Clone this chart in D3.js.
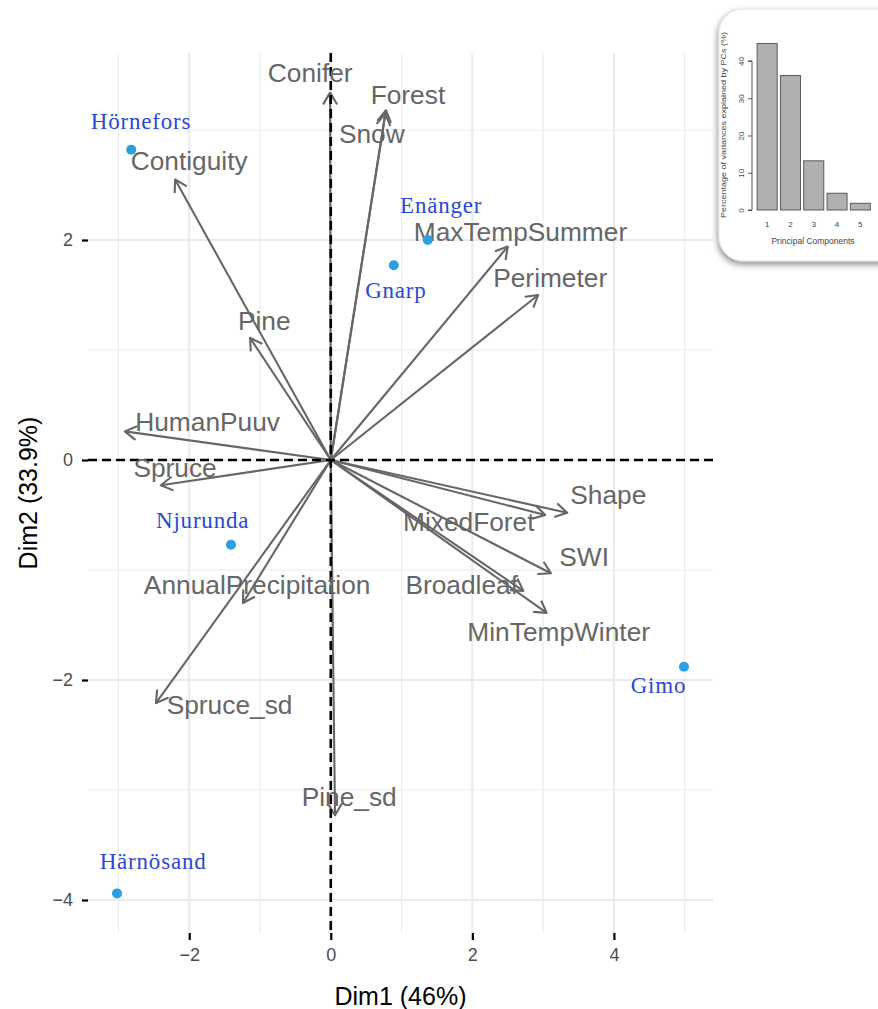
<!DOCTYPE html>
<html>
<head>
<meta charset="utf-8">
<script src="https://cdn.jsdelivr.net/npm/d3@7"></script>
<style>
html,body{margin:0;padding:0;background:#fff;}
svg{display:block;}
</style>
</head>
<body>
<svg id="chart" width="878" height="1009"></svg>
<script>
// ---------- DATA ----------
const varNames = ["Conifer","Forest","Snow","Contiguity","MaxTempSummer","Perimeter","Pine","HumanPuuv","Spruce","AnnualPrecipitation","Spruce_sd","Pine_sd","Shape","MixedForet","SWI","Broadleaf","MinTempWinter"];
const varDim1 = [-0.01, 0.78, 0.77, -2.20, 2.50, 2.93, -1.14, -2.91, -2.40, -1.24, -2.47, 0.06, 3.34, 3.03, 3.11, 2.72, 3.05];
const varDim2 = [3.34, 3.18, 3.15, 2.55, 1.94, 1.50, 1.11, 0.26, -0.23, -1.30, -2.21, -3.23, -0.48, -0.50, -1.03, -1.19, -1.39];
const varLabelDim1 = [-0.29, 1.09, 0.58, -2.00, 2.68, 3.10, -0.94, -1.74, -2.20, -1.04, -1.43, 0.26, 3.92, 1.95, 3.58, 1.85, 3.22];
const varLabelDim2 = [3.52, 3.32, 2.97, 2.72, 2.08, 1.66, 1.27, 0.35, -0.07, -1.13, -2.22, -3.06, -0.31, -0.56, -0.88, -1.13, -1.56];

const indNames = ["Hörnefors","Enänger","Gnarp","Njurunda","Gimo","Härnösand"];
const indDim1 = [-2.82, 1.37, 0.89, -1.41, 4.99, -3.02];
const indDim2 = [2.82, 2.00, 1.77, -0.77, -1.88, -3.94];
const indLabelDim1 = [-2.68, 1.56, 0.92, -1.81, 4.63, -2.51];
const indLabelDim2 = [3.08, 2.32, 1.54, -0.55, -2.05, -3.65];

const xMajorTicks = [-2, 0, 2, 4];
const yMajorTicks = [-4, -2, 0, 2];
const xMinorTicks = [-3, -1, 1, 3, 5];
const yMinorTicks = [-3, -1, 1, 3];
const xTitle = "Dim1 (46%)";
const yTitle = "Dim2 (33.9%)";

// scree inset
const pcLabels = ["1","2","3","4","5"];
const pcVariance = [44.7, 36.1, 13.2, 4.5, 1.8];
const pcTicks = [0, 10, 20, 30, 40];
const screeYTitle = "Percentage of variances explained by PCs (%)";
const screeXTitle = "Principal Components";

// ---------- LAYOUT ----------
const svg = d3.select("#chart");
const panel = {left: 88, right: 713, top: 53, bottom: 933};
const x = d3.scaleLinear().domain([-3.43, 5.40]).range([panel.left, panel.right]);
const y = d3.scaleLinear().domain([-4.30, 3.70]).range([panel.bottom, panel.top]);

const defs = svg.append("defs");
defs.append("marker")
  .attr("id", "arrowhead")
  .attr("viewBox", "-12 -8 14 16")
  .attr("refX", 0).attr("refY", 0)
  .attr("markerUnits", "userSpaceOnUse")
  .attr("markerWidth", 14).attr("markerHeight", 16)
  .attr("orient", "auto")
  .append("path")
  .attr("d", "M-11,-6.5 L0,0 L-11,6.5")
  .attr("fill", "none")
  .attr("stroke", "#666666")
  .attr("stroke-width", 2.1)
  .attr("stroke-linecap", "round")
  .attr("stroke-linejoin", "round");

const shadow = defs.append("filter").attr("id", "shadow")
  .attr("x", "-20%").attr("y", "-20%").attr("width", "140%").attr("height", "140%");
shadow.append("feDropShadow").attr("dx", -1).attr("dy", 3).attr("stdDeviation", 3)
  .attr("flood-color", "#000").attr("flood-opacity", 0.45);

// gridlines
const grid = svg.append("g");
grid.selectAll(".vmin").data(xMinorTicks).join("line")
  .attr("x1", d => x(d)).attr("x2", d => x(d))
  .attr("y1", panel.top).attr("y2", panel.bottom)
  .attr("stroke", "#ebebeb").attr("stroke-width", 1.1);
grid.selectAll(".hmin").data(yMinorTicks).join("line")
  .attr("y1", d => y(d)).attr("y2", d => y(d))
  .attr("x1", panel.left).attr("x2", panel.right)
  .attr("stroke", "#ebebeb").attr("stroke-width", 1.1);
grid.selectAll(".vmaj").data(xMajorTicks).join("line")
  .attr("x1", d => x(d)).attr("x2", d => x(d))
  .attr("y1", panel.top).attr("y2", panel.bottom)
  .attr("stroke", "#ebebeb").attr("stroke-width", 2.2);
grid.selectAll(".hmaj").data(yMajorTicks).join("line")
  .attr("y1", d => y(d)).attr("y2", d => y(d))
  .attr("x1", panel.left).attr("x2", panel.right)
  .attr("stroke", "#ebebeb").attr("stroke-width", 2.2);

// axes
const xAxis = d3.axisBottom(x).tickValues(xMajorTicks).tickSize(7).tickPadding(8)
  .tickFormat(d => d < 0 ? "\u2212" + Math.abs(d) : d);
const gx = svg.append("g").attr("transform", `translate(0,${panel.bottom})`).call(xAxis);
gx.select(".domain").remove();
gx.selectAll(".tick line").attr("stroke", "#000").attr("stroke-width", 2.2);
gx.selectAll(".tick text").attr("fill", "#4d4d4d").attr("font-size", 18)
  .attr("font-family", "Liberation Sans, Arial, sans-serif");

const yAxis = d3.axisLeft(y).tickValues(yMajorTicks).tickSize(6).tickPadding(9)
  .tickFormat(d => d < 0 ? "\u2212" + Math.abs(d) : d);
const gy = svg.append("g").attr("transform", `translate(${panel.left},0)`).call(yAxis);
gy.select(".domain").remove();
gy.selectAll(".tick line").attr("stroke", "#000").attr("stroke-width", 2.2);
gy.selectAll(".tick text").attr("fill", "#4d4d4d").attr("font-size", 18)
  .attr("font-family", "Liberation Sans, Arial, sans-serif");

// arrows
const vars = varNames.map((n, i) => ({name: n, d1: varDim1[i], d2: varDim2[i], l1: varLabelDim1[i], l2: varLabelDim2[i]}));
svg.append("g").selectAll("line").data(vars).join("line")
  .attr("x1", x(0)).attr("y1", y(0))
  .attr("x2", d => x(d.d1)).attr("y2", d => y(d.d2))
  .attr("stroke", "#666666").attr("stroke-width", 2.1)
  .attr("marker-end", "url(#arrowhead)");

// dashed reference lines
svg.append("line")
  .attr("x1", panel.left).attr("x2", panel.right)
  .attr("y1", y(0)).attr("y2", y(0))
  .attr("stroke", "#000").attr("stroke-width", 2.6).attr("stroke-dasharray", "9,5");
svg.append("line")
  .attr("x1", x(0)).attr("x2", x(0))
  .attr("y1", panel.top).attr("y2", panel.bottom)
  .attr("stroke", "#000").attr("stroke-width", 2.6).attr("stroke-dasharray", "9,5");

// variable labels
svg.append("g").selectAll("text").data(vars).join("text")
  .attr("x", d => x(d.l1)).attr("y", d => y(d.l2))
  .attr("dy", "0.36em")
  .attr("text-anchor", "middle")
  .attr("font-family", "Liberation Sans, Arial, sans-serif")
  .attr("font-size", 26.3)
  .attr("fill", "#666666")
  .text(d => d.name);

// individuals
const inds = indNames.map((n, i) => ({name: n, d1: indDim1[i], d2: indDim2[i], l1: indLabelDim1[i], l2: indLabelDim2[i]}));
svg.append("g").selectAll("circle").data(inds).join("circle")
  .attr("cx", d => x(d.d1)).attr("cy", d => y(d.d2)).attr("r", 5)
  .attr("fill", "#2b9fe0");
svg.append("g").selectAll("text").data(inds).join("text")
  .attr("x", d => x(d.l1)).attr("y", d => y(d.l2))
  .attr("dy", "0.34em")
  .attr("text-anchor", "middle")
  .attr("font-family", "Liberation Serif, Times New Roman, serif")
  .attr("font-size", 23)
  .attr("letter-spacing", "0.8px")
  .attr("fill", "#2a48d6")
  .text(d => d.name);

// axis titles
svg.append("text")
  .attr("x", (panel.left + panel.right) / 2).attr("y", 1005)
  .attr("text-anchor", "middle")
  .attr("font-family", "Liberation Sans, Arial, sans-serif")
  .attr("font-size", 25).attr("fill", "#000")
  .text(xTitle);
svg.append("text")
  .attr("transform", `translate(37,${(panel.top + panel.bottom) / 2}) rotate(-90)`)
  .attr("text-anchor", "middle")
  .attr("font-family", "Liberation Sans, Arial, sans-serif")
  .attr("font-size", 25).attr("fill", "#000")
  .text(yTitle);

// ---------- SCREE INSET ----------
const inset = svg.append("g");
inset.append("rect")
  .attr("x", 719).attr("y", 9).attr("width", 190).attr("height", 252).attr("rx", 24)
  .attr("fill", "#fff").attr("stroke", "#e2e2e2").attr("stroke-width", 1)
  .attr("filter", "url(#shadow)");

const sx = d3.scaleBand().domain(pcLabels).range([755.5, 872]).paddingInner(0.14).paddingOuter(0.07);
const sy = d3.scaleLinear().domain([0, 40]).range([210, 61]);

inset.selectAll(".bar").data(pcLabels).join("rect")
  .attr("x", d => sx(d)).attr("width", sx.bandwidth())
  .attr("y", (d, i) => sy(pcVariance[i]))
  .attr("height", (d, i) => sy(0) - sy(pcVariance[i]))
  .attr("fill", "#b0b0b0").attr("stroke", "#5a5a5a").attr("stroke-width", 1);

const sAxis = d3.axisLeft(sy).tickValues(pcTicks).tickSize(4).tickPadding(3);
const gs = inset.append("g").attr("transform", "translate(752,0)").call(sAxis);
gs.select(".domain").attr("stroke", "#555").attr("d", `M-4,${sy(0)}H0V${sy(40)}H-4`);
gs.selectAll(".tick line").attr("stroke", "#555");
gs.selectAll(".tick text")
  .attr("font-size", 8).attr("fill", "#444")
  .attr("font-family", "Liberation Sans, Arial, sans-serif")
  .attr("text-anchor", "middle")
  .attr("x", 0).attr("dy", 0)
  .attr("transform", `translate(-8,0) rotate(-90)`);

inset.selectAll(".pclab").data(pcLabels).join("text")
  .attr("x", d => sx(d) + sx.bandwidth() / 2).attr("y", 227)
  .attr("text-anchor", "middle")
  .attr("font-family", "Liberation Sans, Arial, sans-serif")
  .attr("font-size", 8).attr("fill", "#444")
  .text(d => d);

inset.append("text")
  .attr("x", 813).attr("y", 244)
  .attr("text-anchor", "middle")
  .attr("font-family", "Liberation Sans, Arial, sans-serif")
  .attr("font-size", 8.5).attr("fill", "#444")
  .text(screeXTitle);

inset.append("text")
  .attr("transform", "translate(726,125) rotate(-90)")
  .attr("text-anchor", "middle")
  .attr("font-family", "Liberation Sans, Arial, sans-serif")
  .attr("font-size", 7.6).attr("fill", "#444")
  .attr("textLength", 186).attr("lengthAdjust", "spacingAndGlyphs")
  .text(screeYTitle);
</script>
</body>
</html>
